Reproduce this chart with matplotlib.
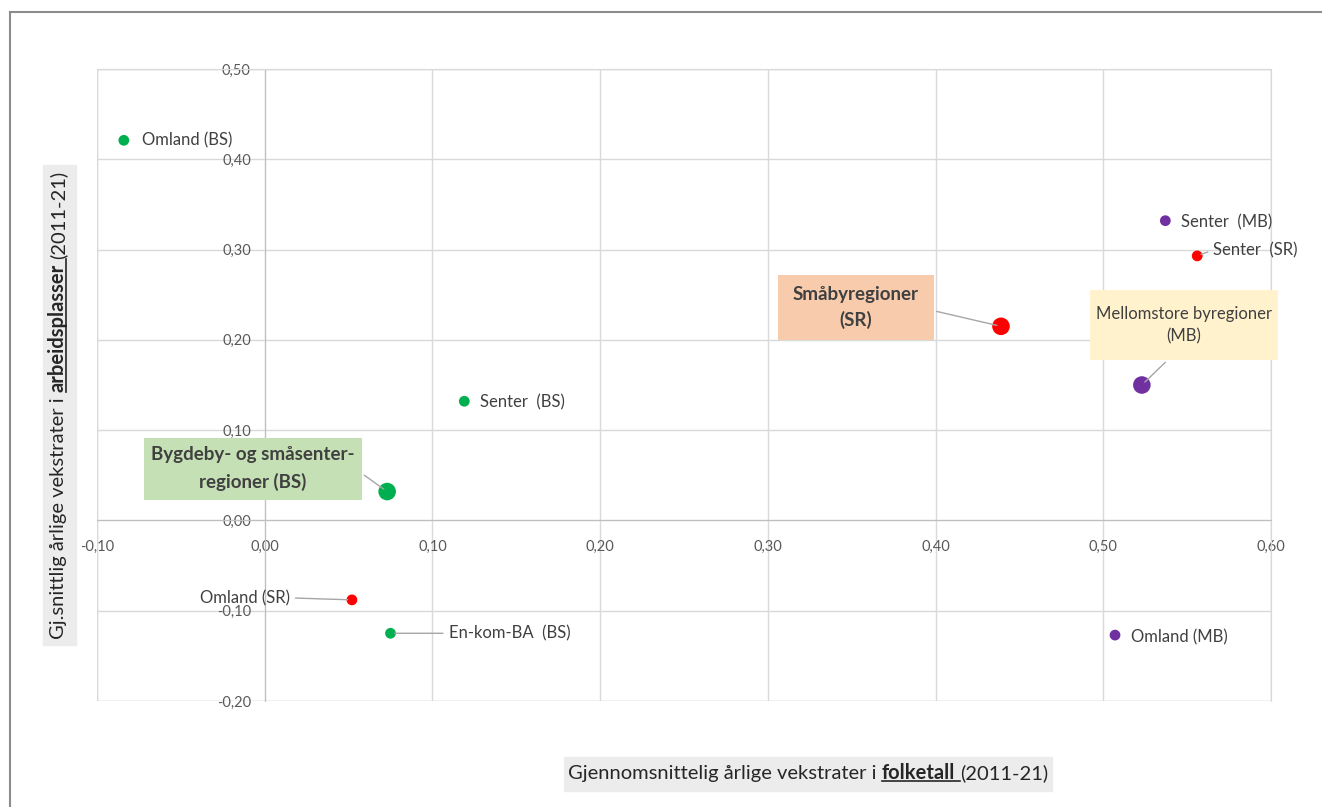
import numpy as np
import matplotlib.pyplot as plt
from matplotlib.path import Path
from matplotlib.lines import Line2D
from matplotlib.patches import Rectangle

plt.rcParams['font.family'] = ['Lato', 'DejaVu Sans']

# data: average annual growth rates 2011-21
labels = ['Omland (BS)', 'Senter  (MB)', 'Senter  (SR)', 'Småbyregioner\n(SR)',
          'Mellomstore byregioner\n(MB)', 'Senter  (BS)', 'Bygdeby- og småsenter-\nregioner (BS)',
          'Omland (SR)', 'En-kom-BA  (BS)', 'Omland (MB)']
folketall = [-0.084, 0.537, 0.556, 0.439, 0.523, 0.119, 0.073, 0.052, 0.075, 0.507]
arbeidsplasser = [0.421, 0.332, 0.293, 0.215, 0.150, 0.132, 0.032, -0.088, -0.125, -0.127]
gruppe = ['BS', 'MB', 'SR', 'SR', 'MB', 'BS', 'BS', 'SR', 'BS', 'MB']
hele_region = [False, False, False, True, True, False, True, False, False, False]

x_ticks = [-0.1, 0.0, 0.1, 0.2, 0.3, 0.4, 0.5, 0.6]
y_ticks = [-0.2, -0.1, 0.0, 0.1, 0.2, 0.3, 0.4, 0.5]

colors = {'BS': '#00b050', 'MB': '#7030a0', 'SR': '#ff0000'}
box_colors = {'BS': '#c5e0b4', 'MB': '#fff2cc', 'SR': '#f8cbad'}

# label layout: offset in pixels from the point, alignment, leader line
label_layout = [
    dict(off=(18, 0), ha='left'),
    dict(off=(16, -2), ha='left'),
    dict(off=(16, 6), ha='left', line=True, relpos=(0, 0.5)),
    dict(off=(-145, 19), ha='center', line=True, relpos=(1, 0.5), box=(15, 11), ls=1.5, bold=True),
    dict(off=(42, 60), ha='center', line=True, relpos=(0.5, 0), box=(6, 16), ls=1.5),
    dict(off=(16, -1), ha='left'),
    dict(off=(-134, 23), ha='center', line=True, relpos=(1, 0.5), box=(7, 9), ls=1.6, bold=True),
    dict(off=(-62, 2), ha='right', line=True, relpos=(1, 0.5)),
    dict(off=(58, 0), ha='left', line=True, relpos=(0, 0.5)),
    dict(off=(16, -2), ha='left'),
]


def pad_box(padx, pady):
    def style(x0, y0, width, height, mutation_size):
        x1, y1 = x0 + width + padx, y0 + height + pady
        xa, ya = x0 - padx, y0 - pady
        return Path([(xa, ya), (x1, ya), (x1, y1), (xa, y1), (xa, ya)], closed=True)
    return style


def fmt(v):
    s = f"{v:.2f}".replace('.', ',')
    return '0,00' if s == '-0,00' else s


W, H = 1322, 807
fig = plt.figure(figsize=(W / 100, H / 100), dpi=100)
ax = fig.add_axes([97 / W, 1 - 701 / H, (1271 - 97) / W, (701 - 69) / H])

ax.set_xlim(-0.1, 0.6)
ax.set_ylim(-0.2, 0.5)
ax.set_xticks(x_ticks)
ax.set_yticks(y_ticks)
ax.set_xticklabels([fmt(v) for v in x_ticks])
ax.set_yticklabels([fmt(v) for v in y_ticks])
ax.grid(True, color='#d9d9d9', linewidth=1)
ax.set_axisbelow(True)

ax.spines['left'].set_position(('data', 0))
ax.spines['bottom'].set_position(('data', 0))
for s in ['left', 'bottom']:
    ax.spines[s].set_color('#bfbfbf')
for s in ['top', 'right']:
    ax.spines[s].set_color('#d9d9d9')
ax.add_patch(Rectangle((0, 0), 1, 1, transform=ax.transAxes, fill=False,
                       edgecolor='#d9d9d9', linewidth=1, zorder=0.5))
ax.tick_params(axis='y', length=0, pad=10, labelsize=10.5, labelcolor='#595959')
ax.tick_params(axis='x', length=0, pad=14, labelsize=10.5, labelcolor='#595959')

for i in range(len(labels)):
    g = gruppe[i]
    size = 160 if hele_region[i] else 60
    ax.scatter(folketall[i], arbeidsplasser[i], s=size, color=colors[g],
               edgecolors='none', zorder=3)

    lay = label_layout[i]
    kw = dict(textcoords='offset pixels', xytext=lay['off'], ha=lay['ha'],
              va='center', fontsize=12, color='#404040', zorder=4)
    if lay.get('box'):
        kw['bbox'] = dict(boxstyle=pad_box(*lay['box']), fc=box_colors[g], ec='none')
        kw['multialignment'] = 'center'
        kw['linespacing'] = lay['ls']
    if lay.get('bold'):
        kw['fontweight'] = 'bold'
        kw['fontsize'] = 13.5
    if lay.get('line'):
        kw['arrowprops'] = dict(arrowstyle='-', color='#a6a6a6', lw=1,
                                relpos=lay['relpos'], shrinkA=2, shrinkB=3)
    ax.annotate(labels[i], (folketall[i], arbeidsplasser[i]), **kw)

# outer frame of the chart area (left and top only)
fig.add_artist(Line2D([10 / W, 10 / W], [0, 1 - 12 / H], transform=fig.transFigure,
                      color='#8c8c8c', lw=1.5))
fig.add_artist(Line2D([10 / W, 1], [1 - 12 / H, 1 - 12 / H], transform=fig.transFigure,
                      color='#8c8c8c', lw=1.5))

# axis titles with a bold underlined word
fig.canvas.draw()
renderer = fig.canvas.get_renderer()
title_size = 14.5


def text_width(s, weight):
    t = fig.text(0, 0, s, fontsize=title_size, fontweight=weight)
    w = t.get_window_extent(renderer).width
    t.remove()
    return w


def rich_title(pieces, cx, cy, vertical=False):
    space = text_width('x x', 'normal') - text_width('xx', 'normal')
    widths = [text_width(s, 'bold' if b else 'normal') for s, b in pieces]
    total = sum(widths) + space * (len(pieces) - 1)
    if vertical:
        fig.add_artist(Rectangle(((cx - 16) / W, (cy - total / 2 - 6) / H), 33 / W,
                                 (total + 12) / H, transform=fig.transFigure,
                                 color='#ececec', zorder=0))
    else:
        fig.add_artist(Rectangle(((cx - total / 2 - 4) / W, (cy - 17) / H),
                                 (total + 8) / W, 34 / H, transform=fig.transFigure,
                                 color='#ececec', zorder=0))
    pos = cx - total / 2 if not vertical else cy - total / 2
    base = (cy - 5) if not vertical else (cx + 5)
    for (s, b), w in zip(pieces, widths):
        weight = 'bold' if b else 'normal'
        if vertical:
            fig.text(base / W, pos / H, s, rotation=90, rotation_mode='anchor',
                     ha='left', va='baseline', fontsize=title_size, fontweight=weight,
                     color='#262626')
            if b:
                fig.add_artist(Line2D([(base + 2) / W] * 2, [pos / H, (pos + w + space) / H],
                                      transform=fig.transFigure, color='#262626', lw=1.2))
        else:
            fig.text(pos / W, base / H, s, ha='left', va='baseline', fontsize=title_size,
                     fontweight=weight, color='#262626')
            if b:
                fig.add_artist(Line2D([pos / W, (pos + w + space) / W], [(base - 2) / H] * 2,
                                      transform=fig.transFigure, color='#262626', lw=1.2))
        pos += w + space


rich_title([('Gjennomsnittelig årlige vekstrater i', False), ('folketall', True),
            ('(2011-21)', False)], 808, H - 774)
rich_title([('Gj.snittlig årlige vekstrater i', False), ('arbeidsplasser', True),
            ('(2011-21)', False)], 59, H - 405, vertical=True)

fig.savefig('out.png', dpi=100)
